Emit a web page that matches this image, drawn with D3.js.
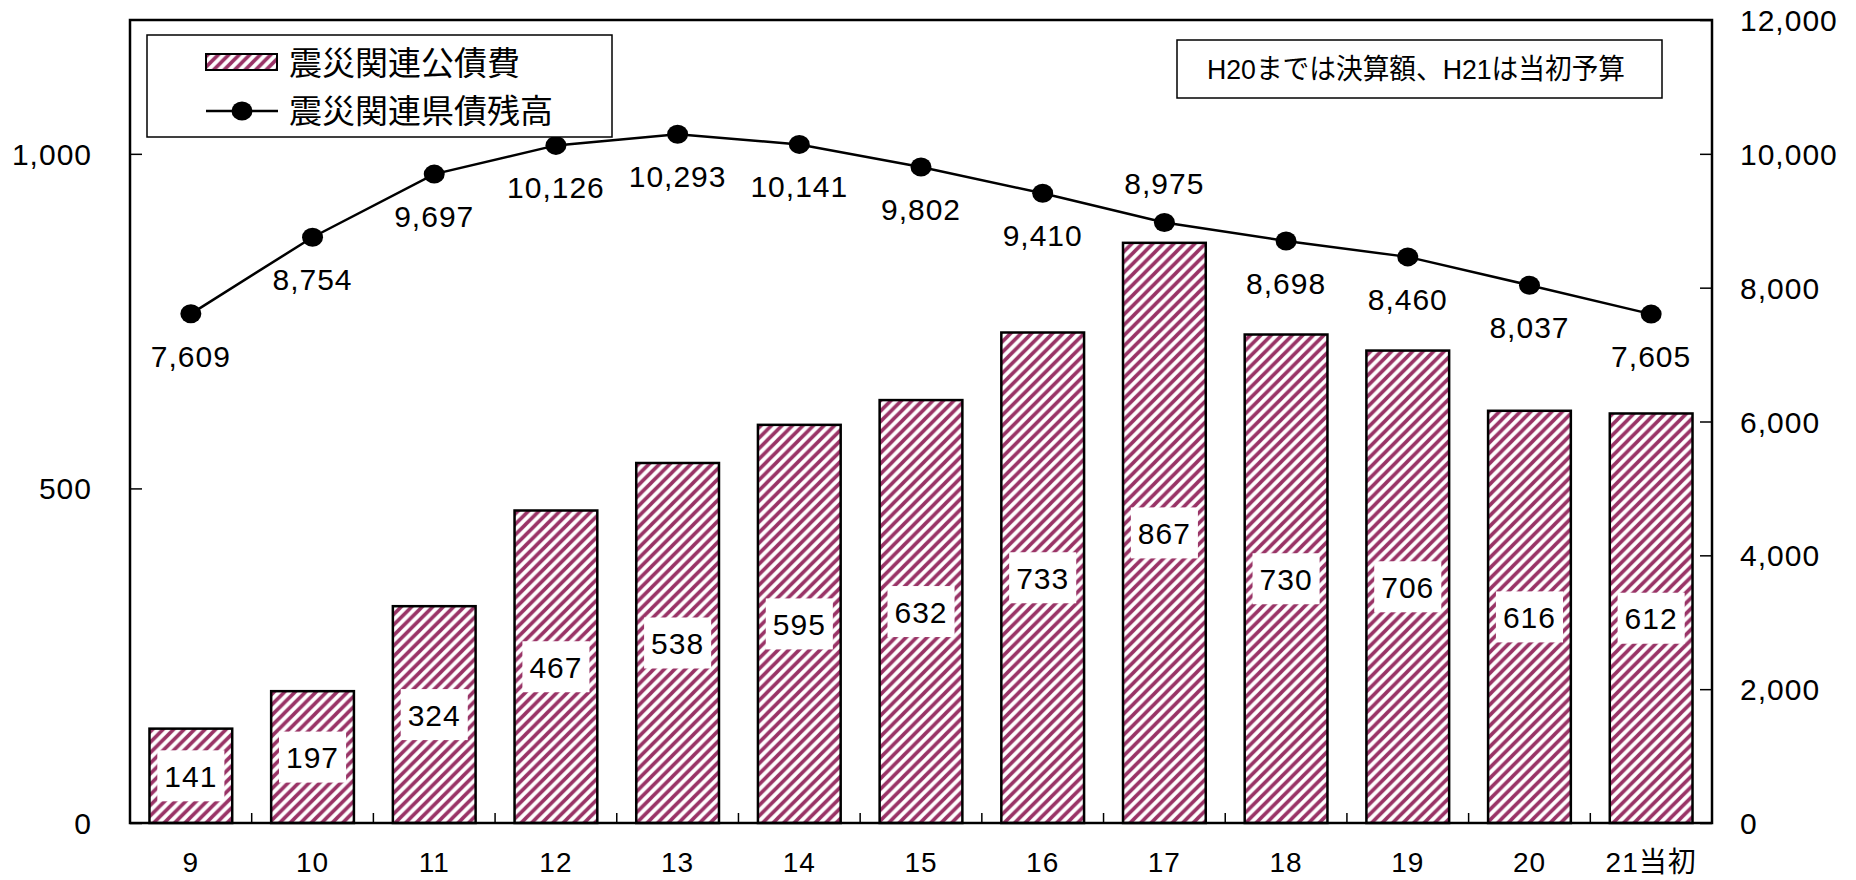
<!DOCTYPE html>
<html>
<head>
<meta charset="utf-8">
<script src="https://cdn.jsdelivr.net/npm/d3@7"></script>
<style>
  html, body { margin: 0; padding: 0; background: #fff; }
  svg { display: block; }
  text { font-family: "Liberation Sans", Arial, "Noto Sans CJK JP", sans-serif; fill: #000; }
</style>
</head>
<body>
<svg id="chart" width="1856" height="880"></svg>
<script>
// 年度（平成）
const categories = ["9", "10", "11", "12", "13", "14", "15", "16", "17", "18", "19", "20", "21当初"];
// 震災関連公債費（左軸）
const bondCost = [141, 197, 324, 467, 538, 595, 632, 733, 867, 730, 706, 616, 612];
// 震災関連県債残高（右軸）
const bondBalance = [7609, 8754, 9697, 10126, 10293, 10141, 9802, 9410, 8975, 8698, 8460, 8037, 7605];
// 軸目盛
const leftTicks = [0, 500, 1000];
const rightTicks = [0, 2000, 4000, 6000, 8000, 10000, 12000];
const legendLabels = ["震災関連公債費", "震災関連県債残高"];
const noteText = "H20までは決算額、H21は当初予算";

const plum = "#993366";
const fmt = d3.format(",");

const svg = d3.select("#chart");
const plot = { left: 130, right: 1712, top: 20, bottom: 823 };

const x = d3.scaleBand()
  .domain(categories)
  .range([plot.left, plot.right])
  .paddingInner(0.32)
  .paddingOuter(0.16);

const yLeft = d3.scaleLinear().domain([0, 1200]).range([plot.bottom, plot.top]);
const yRight = d3.scaleLinear().domain([0, 12000]).range([plot.bottom, plot.top]);

// 斜線ハッチング
const P = 10.5;
const defs = svg.append("defs");
const pat = defs.append("pattern")
  .attr("id", "hatch")
  .attr("patternUnits", "userSpaceOnUse")
  .attr("width", P).attr("height", P);
pat.append("rect").attr("width", P).attr("height", P).attr("fill", "#fff");
pat.append("path")
  .attr("d", `M-1,${P + 1} L${P + 1},-1 M-${P / 4},${P / 4} L${P / 4},-${P / 4} M${P * 0.75},${P * 1.25} L${P * 1.25},${P * 0.75}`)
  .attr("stroke", plum).attr("stroke-width", 3.6);

// 棒
const bars = svg.append("g");
categories.forEach((c, i) => {
  bars.append("rect")
    .attr("x", x(c))
    .attr("y", yLeft(bondCost[i]))
    .attr("width", x.bandwidth())
    .attr("height", yLeft(0) - yLeft(bondCost[i]))
    .attr("fill", "url(#hatch)")
    .attr("stroke", "#000")
    .attr("stroke-width", 2.5);
});

// 棒の値ラベル（白抜き）
const barLabels = svg.append("g");
categories.forEach((c, i) => {
  const cx = x(c) + x.bandwidth() / 2;
  const cy = (yLeft(bondCost[i]) + yLeft(0)) / 2;
  const g = barLabels.append("g");
  const t = g.append("text")
    .attr("x", cx).attr("y", cy + 11)
    .attr("text-anchor", "middle")
    .attr("font-size", 30)
    .attr("letter-spacing", 1)
    .text(fmt(bondCost[i]));
  const bb = t.node().getBBox();
  g.insert("rect", "text")
    .attr("x", cx - bb.width / 2 - 7)
    .attr("y", cy - 25.5)
    .attr("width", bb.width + 14)
    .attr("height", 51)
    .attr("fill", "#fff");
});

// 枠
svg.append("rect")
  .attr("x", plot.left).attr("y", plot.top)
  .attr("width", plot.right - plot.left).attr("height", plot.bottom - plot.top)
  .attr("fill", "none").attr("stroke", "#000").attr("stroke-width", 2.5);

// 左軸
const axL = svg.append("g")
  .attr("transform", `translate(${plot.left},0)`)
  .call(d3.axisRight(yLeft).tickValues(leftTicks).tickSize(12).tickFormat(""));
axL.select(".domain").remove();
axL.selectAll("line").attr("stroke", "#000").attr("stroke-width", 1.5);
svg.append("g").selectAll("text").data(leftTicks).join("text")
  .attr("x", 92).attr("y", d => yLeft(d) + 11)
  .attr("text-anchor", "end")
  .attr("font-size", 30).attr("letter-spacing", 1)
  .text(d => fmt(d));

// 右軸
const axR = svg.append("g")
  .attr("transform", `translate(${plot.right},0)`)
  .call(d3.axisLeft(yRight).tickValues(rightTicks).tickSize(12).tickFormat(""));
axR.select(".domain").remove();
axR.selectAll("line").attr("stroke", "#000").attr("stroke-width", 1.5);
svg.append("g").selectAll("text").data(rightTicks).join("text")
  .attr("x", 1740).attr("y", d => yRight(d) + 11)
  .attr("text-anchor", "start")
  .attr("font-size", 30).attr("letter-spacing", 1)
  .text(d => fmt(d));

// 横軸の区切り目盛と年度ラベル
const step = x.step();
const bounds = categories.slice(1).map(c => x(c) - (step - x.bandwidth()) / 2);
svg.append("g").selectAll("line").data(bounds).join("line")
  .attr("x1", d => d).attr("x2", d => d)
  .attr("y1", plot.bottom).attr("y2", plot.bottom - 10)
  .attr("stroke", "#000").attr("stroke-width", 1.5);
svg.append("g").selectAll("text").data(categories).join("text")
  .attr("x", d => x(d) + x.bandwidth() / 2)
  .attr("y", 872)
  .attr("text-anchor", "middle")
  .attr("font-size", 28).attr("letter-spacing", 1)
  .text(d => d);

// 県債残高の折れ線
const lineGen = d3.line()
  .x((d, i) => x(categories[i]) + x.bandwidth() / 2)
  .y(d => yRight(d));
svg.append("path")
  .datum(bondBalance)
  .attr("d", lineGen)
  .attr("fill", "none").attr("stroke", "#000").attr("stroke-width", 2.5);
svg.append("g").selectAll("ellipse").data(bondBalance).join("ellipse")
  .attr("cx", (d, i) => x(categories[i]) + x.bandwidth() / 2)
  .attr("cy", d => yRight(d))
  .attr("rx", 10.5).attr("ry", 9.5)
  .attr("fill", "#000");

// 残高ラベル：棒と重なる場合は点の上に置く
svg.append("g").selectAll("text").data(bondBalance).join("text")
  .attr("x", (d, i) => x(categories[i]) + x.bandwidth() / 2)
  .attr("y", (d, i) => {
    const py = yRight(d);
    const below = py + 53;
    return (below + 8 > yLeft(bondCost[i])) ? py - 28 : below;
  })
  .attr("text-anchor", "middle")
  .attr("font-size", 30).attr("letter-spacing", 1)
  .text(d => fmt(d));

// 凡例
const lg = svg.append("g");
lg.append("rect")
  .attr("x", 147).attr("y", 35).attr("width", 465).attr("height", 102)
  .attr("fill", "#fff").attr("stroke", "#000").attr("stroke-width", 1.5);
lg.append("rect")
  .attr("x", 206).attr("y", 54).attr("width", 71).attr("height", 16)
  .attr("fill", "url(#hatch)").attr("stroke", "#000").attr("stroke-width", 2);
lg.append("line")
  .attr("x1", 206).attr("x2", 278).attr("y1", 111).attr("y2", 111)
  .attr("stroke", "#000").attr("stroke-width", 2.5);
lg.append("ellipse")
  .attr("cx", 242).attr("cy", 111).attr("rx", 10.5).attr("ry", 9.5).attr("fill", "#000");
lg.selectAll("text.lab").data(legendLabels).join("text")
  .attr("class", "lab")
  .attr("x", 289).attr("y", (d, i) => 75 + i * 48)
  .attr("font-family", "'Noto Sans CJK JP', sans-serif")
  .attr("font-size", 33)
  .text(d => d);

// 注記
const nt = svg.append("g");
nt.append("rect")
  .attr("x", 1177).attr("y", 40).attr("width", 485).attr("height", 58)
  .attr("fill", "#fff").attr("stroke", "#000").attr("stroke-width", 1.5);
nt.append("text")
  .attr("x", 1207).attr("y", 79)
  .attr("font-family", "'Noto Sans CJK JP', sans-serif")
  .attr("font-size", 28)
  .attr("textLength", 418).attr("lengthAdjust", "spacingAndGlyphs")
  .text(noteText);
</script>
</body>
</html>
